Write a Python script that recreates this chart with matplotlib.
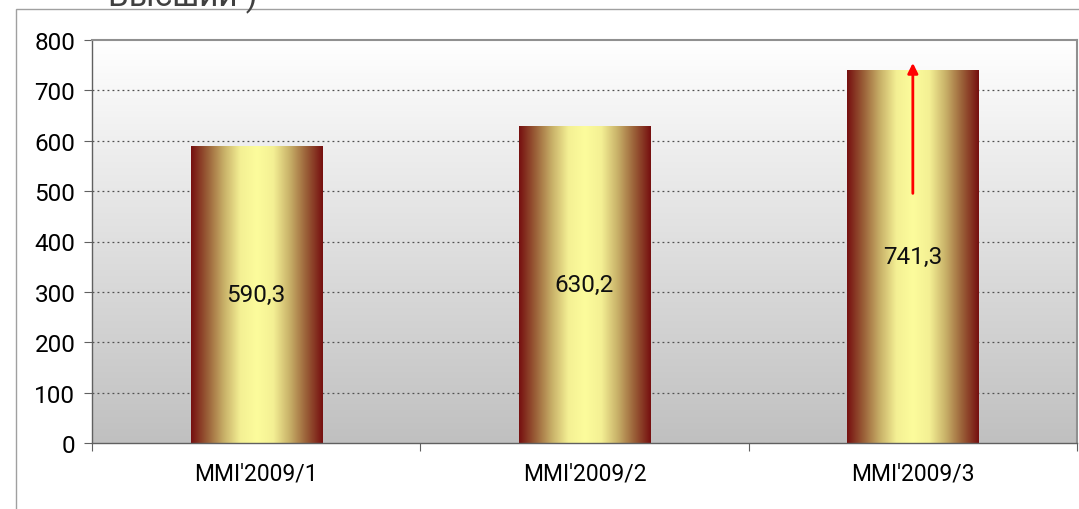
import matplotlib.pyplot as plt
import numpy as np
from matplotlib.colors import LinearSegmentedColormap
from matplotlib.patches import Rectangle

plt.rcParams["font.family"] = ["Roboto", "DejaVu Sans"]

categories = ["MMI'2009/1", "MMI'2009/2", "MMI'2009/3"]
values = [590.3, 630.2, 741.3]
value_labels = ["590,3", "630,2", "741,3"]
y_ticks = [0, 100, 200, 300, 400, 500, 600, 700, 800]

BAR_CMAP = LinearSegmentedColormap.from_list(
    "gold", ["#761010", "#9a6038", "#c8b068", "#f4f094", "#fcfc9c",
             "#f4f094", "#c8b068", "#9a6038", "#761010"])
BG_CMAP = LinearSegmentedColormap.from_list("bg", ["#c0c0c0", "#ffffff"])

fig = plt.figure(figsize=(10.79, 5.10), dpi=100)
fig.patches.append(Rectangle((16 / 1079, -0.01), 1.2, 1 - 10 / 510 + 0.01,
                             transform=fig.transFigure, fill=False,
                             edgecolor="#a0a0a0", linewidth=1.0))
fig.text(108 / 1079, 1 - 6 / 510, "Высший )", fontsize=24, color="#404040",
         va="baseline", ha="left")

ax = fig.add_axes([92 / 1079, 66 / 510, 985 / 1079, 403 / 510])
ax.set_xlim(0, 3)
ax.set_ylim(0, 800)

# фон: вертикальный градиент
grad = np.linspace(0, 1, 256).reshape(-1, 1)
ax.imshow(grad, cmap=BG_CMAP, aspect="auto", extent=(0, 3, 0, 800),
          origin="lower", zorder=0)

for y in y_ticks[1:-1]:
    ax.axhline(y, color="#505050", linestyle=(0, (1.5, 2.5)), linewidth=0.9, zorder=1)

width = 0.4
hgrad = np.linspace(0, 1, 256).reshape(1, -1)
for i, v in enumerate(values):
    x0 = i + 0.5 - width / 2
    im = ax.imshow(hgrad, cmap=BAR_CMAP, aspect="auto",
                   extent=(x0, x0 + width, 0, v), zorder=2)
    r = Rectangle((x0, 0), width, v, transform=ax.transData, fill=False,
                  linewidth=0)
    ax.add_patch(r)
    im.set_clip_path(r)
    ax.text(i + 0.5, v / 2, value_labels[i], ha="center", va="center",
            fontsize=17.5, color="#101010", zorder=3)

ax.annotate("", xy=(2.5, 760), xytext=(2.5, 490),
            arrowprops=dict(arrowstyle="-|>", color="red", lw=2,
                            mutation_scale=15), zorder=4)

ax.set_yticks(y_ticks)
ax.set_yticklabels([str(t) for t in y_ticks], fontsize=17.5)
ax.set_xticks([0, 1, 2, 3], minor=False)
ax.set_xticklabels([])
ax.set_xticks([0.5, 1.5, 2.5], minor=True)
ax.set_xticklabels(categories, minor=True, fontsize=16.5)
ax.tick_params(axis="x", which="minor", length=0, pad=13)
ax.tick_params(axis="x", which="major", length=6, direction="out", color="#606060")
ax.tick_params(axis="y", length=6, direction="out", color="#606060", pad=6)

for s in ["top", "right"]:
    ax.spines[s].set_color("#909090")
    ax.spines[s].set_linewidth(1.5)
for s in ["left", "bottom"]:
    ax.spines[s].set_color("#606060")
    ax.spines[s].set_linewidth(1.0)

fig.savefig("out.png", dpi=100)
